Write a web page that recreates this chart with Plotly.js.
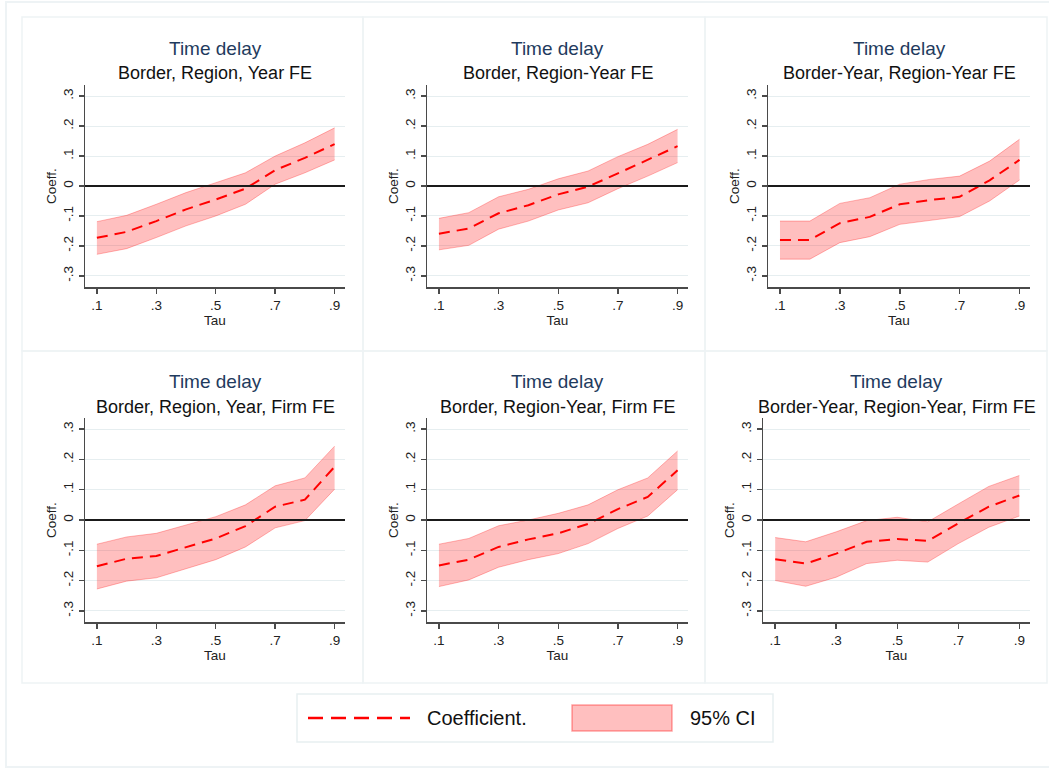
<!DOCTYPE html>
<html>
<head>
<meta charset="utf-8">
<script src="https://cdn.plot.ly/plotly-3.0.1.min.js"></script>
<style>html,body{margin:0;padding:0;background:#fff;}#chart{width:1049px;height:768px;}</style>
</head>
<body>
<div id="chart"></div>
<script>
// ---- data ----
const tau = [0.1, 0.2, 0.3, 0.4, 0.5, 0.6, 0.7, 0.8, 0.9];
const titles = ["Time delay", "Time delay", "Time delay", "Time delay", "Time delay", "Time delay"];
const subtitles = ["Border, Region, Year FE", "Border, Region-Year FE", "Border-Year, Region-Year FE",
                   "Border, Region, Year, Firm FE", "Border, Region-Year, Firm FE", "Border-Year, Region-Year, Firm FE"];

const coef1 = [-0.173, -0.153, -0.117, -0.078, -0.045, -0.009, 0.053, 0.094, 0.140];
const hi1   = [-0.119, -0.098, -0.061, -0.022, 0.011, 0.044, 0.100, 0.144, 0.194];
const lo1   = [-0.228, -0.209, -0.172, -0.133, -0.100, -0.061, 0.006, 0.044, 0.087];

const coef2 = [-0.159, -0.142, -0.091, -0.064, -0.028, -0.002, 0.042, 0.087, 0.133];
const hi2   = [-0.108, -0.089, -0.036, -0.011, 0.024, 0.050, 0.098, 0.139, 0.189];
const lo2   = [-0.213, -0.198, -0.144, -0.117, -0.080, -0.056, -0.009, 0.033, 0.078];

const coef3 = [-0.180, -0.180, -0.124, -0.103, -0.061, -0.047, -0.036, 0.019, 0.087];
const hi3   = [-0.117, -0.117, -0.058, -0.039, 0.006, 0.022, 0.033, 0.083, 0.156];
const lo3   = [-0.244, -0.244, -0.189, -0.169, -0.128, -0.114, -0.102, -0.050, 0.020];

const coef4 = [-0.153, -0.128, -0.119, -0.089, -0.061, -0.020, 0.044, 0.067, 0.176];
const hi4   = [-0.080, -0.056, -0.044, -0.017, 0.011, 0.050, 0.113, 0.139, 0.244];
const lo4   = [-0.228, -0.202, -0.191, -0.161, -0.131, -0.089, -0.026, -0.002, 0.102];

const coef5 = [-0.150, -0.131, -0.089, -0.064, -0.044, -0.013, 0.036, 0.076, 0.164];
const hi5   = [-0.080, -0.061, -0.019, 0.000, 0.022, 0.050, 0.100, 0.139, 0.228];
const lo5   = [-0.220, -0.198, -0.156, -0.131, -0.111, -0.078, -0.028, 0.013, 0.100];

const coef6 = [-0.130, -0.144, -0.111, -0.072, -0.063, -0.069, -0.011, 0.044, 0.081];
const hi6   = [-0.058, -0.072, -0.039, -0.002, 0.009, -0.006, 0.053, 0.111, 0.147];
const lo6   = [-0.200, -0.219, -0.189, -0.144, -0.133, -0.139, -0.078, -0.024, 0.013];

const xTickVals = [0.1, 0.3, 0.5, 0.7, 0.9];
const xTickText = [".1", ".3", ".5", ".7", ".9"];
const yTickVals = [-0.3, -0.2, -0.1, 0, 0.1, 0.2, 0.3];
const yTickText = ["-.3", "-.2", "-.1", "0", ".1", ".2", ".3"];
const legendLabels = ["Coefficient.", "95% CI"];

// ---- layout helpers ----
const W = 1049, H = 768;
const px = v => v / W;
const py = v => 1 - v / H;

// plot-area boxes in pixels [left, right, top, bottom]
const boxes = [
  [85, 345, 85, 287], [427, 688, 85, 287], [768, 1030, 85, 287],
  [85, 345, 418, 622], [427, 688, 418, 622], [763, 1030, 418, 622]
];
const titleY = [[48, 73], [382, 407]];
const panels = [
  [22, 363, 17, 351], [363, 705, 17, 351], [705, 1047, 17, 351],
  [22, 363, 351, 683], [363, 705, 351, 683], [705, 1047, 351, 683]
];

const series = [[coef1, hi1, lo1], [coef2, hi2, lo2], [coef3, hi3, lo3],
                [coef4, hi4, lo4], [coef5, hi5, lo5], [coef6, hi6, lo6]];

const FONT = "Liberation Sans, Arial, sans-serif";
const fillCol = "rgba(255,0,0,0.25)";
const edgeCol = "rgba(255,0,0,0.28)";

const data = [];
const layout = {
  width: W, height: H, autosize: false,
  margin: {l: 0, r: 0, t: 0, b: 0},
  paper_bgcolor: "#ffffff", plot_bgcolor: "rgba(0,0,0,0)",
  showlegend: false,
  font: {family: FONT, size: 13.5, color: "#222"},
  shapes: [], annotations: []
};

// outer frame
layout.shapes.push({type: "rect", xref: "paper", yref: "paper", x0: px(6), x1: px(1060), y0: py(2), y1: py(767),
  line: {color: "#eef3f5", width: 2}, layer: "below"});

series.forEach((s, i) => {
  const k = i + 1;
  const xa = "x" + (k === 1 ? "" : k), ya = "y" + (k === 1 ? "" : k);
  const b = boxes[i];
  data.push({x: tau, y: s[1], xaxis: xa, yaxis: ya, type: "scatter", mode: "lines",
    line: {color: edgeCol, width: 1}, hoverinfo: "skip"});
  data.push({x: tau, y: s[2], xaxis: xa, yaxis: ya, type: "scatter", mode: "lines", fill: "tonexty",
    fillcolor: fillCol, line: {color: edgeCol, width: 1}, hoverinfo: "skip"});
  data.push({x: tau, y: s[0], xaxis: xa, yaxis: ya, type: "scatter", mode: "lines",
    line: {color: "#ff0000", width: 2, dash: "11px,7px"}});

  layout["xaxis" + (k === 1 ? "" : k)] = {
    domain: [px(b[0]), px(b[1])], anchor: ya, range: [0.06, 0.935],
    tickvals: xTickVals, ticktext: xTickText, showgrid: false, zeroline: false,
    showline: true, linecolor: "#4a4a4a", linewidth: 1.5,
    ticks: "outside", ticklen: 5, tickwidth: 1.5, tickcolor: "#4a4a4a",
    tickfont: {family: FONT, size: 13.5, color: "#222"},
    title: {text: "Tau", font: {family: FONT, size: 13.5, color: "#222"}, standoff: 2},
    fixedrange: true
  };
  layout["yaxis" + (k === 1 ? "" : k)] = {
    domain: [py(b[3]), py(b[2])], anchor: xa, range: [-0.337, 0.337],
    tickvals: yTickVals, ticktext: yTickText, tickangle: -90,
    showgrid: true, gridcolor: "#e6eef0", gridwidth: 1,
    zeroline: true, zerolinecolor: "#1a1a1a", zerolinewidth: 1.5, zerolinelayer: "above traces",
    showline: true, linecolor: "#4a4a4a", linewidth: 1.5,
    ticks: "outside", ticklen: 5, tickwidth: 1.5, tickcolor: "#4a4a4a",
    tickfont: {family: FONT, size: 13.5, color: "#222"},
    title: {text: "Coeff.", font: {family: FONT, size: 13.5, color: "#222"}, standoff: 1},
    fixedrange: true
  };

  const p = panels[i];
  layout.shapes.push({type: "rect", xref: "paper", yref: "paper", x0: px(p[0]), x1: px(p[1]), y0: py(p[3]), y1: py(p[2]),
    line: {color: "#eef3f5", width: 1.5}, layer: "below"});

  const cx = px((b[0] + b[1]) / 2);
  const ty = titleY[i < 3 ? 0 : 1];
  layout.annotations.push({xref: "paper", yref: "paper", x: cx, y: py(ty[0]), xanchor: "center", yanchor: "middle",
    text: titles[i], showarrow: false, font: {family: FONT, size: 19, color: "#1f3b5e"}});
  layout.annotations.push({xref: "paper", yref: "paper", x: cx, y: py(ty[1]), xanchor: "center", yanchor: "middle",
    text: subtitles[i], showarrow: false, font: {family: FONT, size: 18, color: "#111"}});
});

// legend box
layout.shapes.push({type: "rect", xref: "paper", yref: "paper", x0: px(297), x1: px(773), y0: py(742), y1: py(694),
  line: {color: "#e8eff1", width: 1.5}, fillcolor: "#ffffff", layer: "below"});
layout.shapes.push({type: "line", xref: "paper", yref: "paper", x0: px(308), x1: px(410), y0: py(718), y1: py(718),
  line: {color: "#ff0000", width: 2.5, dash: "15px,8px"}});
layout.shapes.push({type: "rect", xref: "paper", yref: "paper", x0: px(572), x1: px(672), y0: py(731), y1: py(705),
  line: {color: "rgba(255,0,0,0.35)", width: 1.5}, fillcolor: fillCol});
layout.annotations.push({xref: "paper", yref: "paper", x: px(425), y: py(718), xanchor: "left", yanchor: "middle",
  text: legendLabels[0], showarrow: false, font: {family: FONT, size: 20, color: "#111"}});
layout.annotations.push({xref: "paper", yref: "paper", x: px(688), y: py(718), xanchor: "left", yanchor: "middle",
  text: legendLabels[1], showarrow: false, font: {family: FONT, size: 20, color: "#111"}});

Plotly.newPlot("chart", data, layout, {displayModeBar: false, staticPlot: true});
</script>
</body>
</html>
